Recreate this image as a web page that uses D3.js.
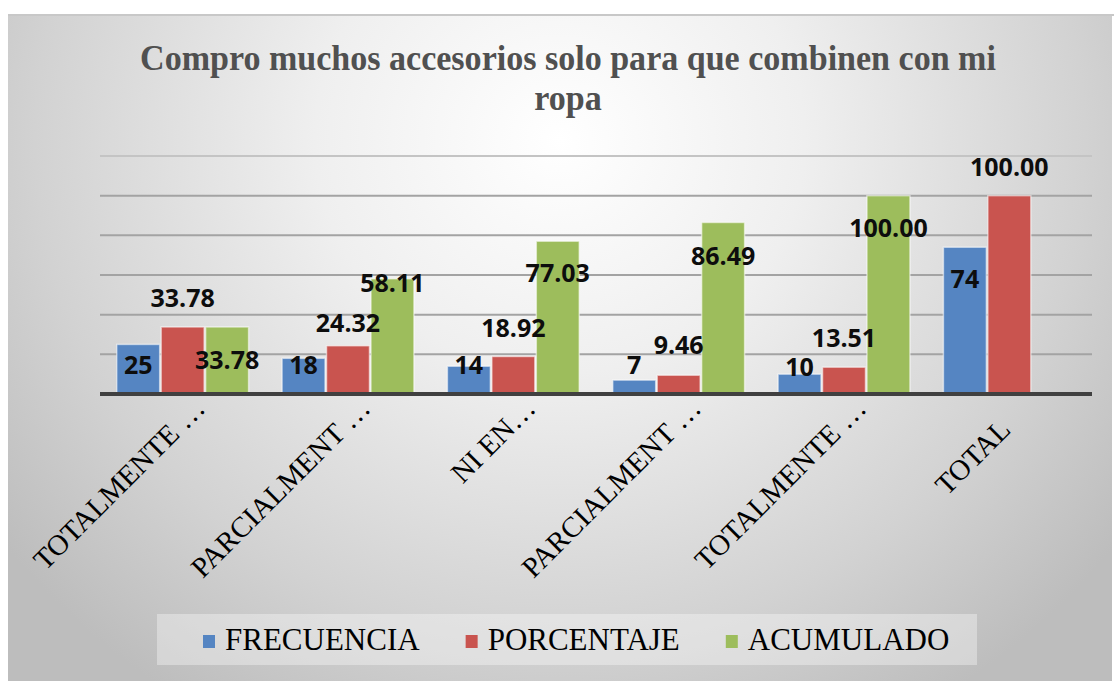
<!DOCTYPE html>
<html>
<head>
<meta charset="utf-8">
<script src="https://cdn.jsdelivr.net/npm/d3@7"></script>
<style>
  html, body { margin: 0; padding: 0; background: #ffffff; }
  svg { display: block; }
</style>
</head>
<body>
<svg id="chart" width="1114" height="681"></svg>
<script>
// ---------------- data ----------------
const titleLines = ["Compro muchos accesorios solo para que combinen con mi", "ropa"];
const categories = ["TOTALMENTE …", "PARCIALMENT …", "NI EN…", "PARCIALMENT …", "TOTALMENTE …", "TOTAL"];
const seriesNames = ["FRECUENCIA", "PORCENTAJE", "ACUMULADO"];
const frecuencia = [25, 18, 14, 7, 10, 74];
const porcentaje = [33.78, 24.32, 18.92, 9.46, 13.51, 100.00];
const acumulado  = [33.78, 58.11, 77.03, 86.49, 100.00, null];
const labelFormats = [d3.format("d"), d3.format(".2f"), d3.format(".2f")];
const yTicks = [0, 20, 40, 60, 80, 100, 120];

// ---------------- layout / style ----------------
const W = 1114, H = 681;
const colors = ["#5585c2", "#c9544f", "#9dbd5c"];
// vertical offset of each data label's centre from its bar top (px)
const labelDy = [
  [21, 7, -1, -15, -7, 32],
  [-29, -23, -28, -30, -29, -29],
  [33, 4, 32, 34, 32, 0]
];
// shift along the rotated baseline for each category label
const catShift = [0, 0, 0, 0, 0, -30];

const svg = d3.select("#chart");
const defs = svg.append("defs");

const bg = defs.append("radialGradient").attr("id", "bgGrad")
  .attr("gradientUnits", "userSpaceOnUse")
  .attr("cx", 560).attr("cy", 140).attr("r", 700)
  .attr("fx", 560).attr("fy", 140)
  .attr("gradientTransform", "translate(560,140) scale(1,0.95) translate(-560,-140)");
bg.append("stop").attr("offset", "0").attr("stop-color", "#ffffff");
bg.append("stop").attr("offset", "0.35").attr("stop-color", "#efefef");
bg.append("stop").attr("offset", "0.75").attr("stop-color", "#d2d2d2");
bg.append("stop").attr("offset", "1").attr("stop-color", "#bdbdbd");

const series = [frecuencia, porcentaje, acumulado];

// chart area
svg.append("rect").attr("x", 8).attr("y", 14).attr("width", W - 10).attr("height", H - 14)
  .attr("fill", "url(#bgGrad)");
svg.append("line").attr("x1", 8).attr("x2", W).attr("y1", 15).attr("y2", 15)
  .attr("stroke", "#c8c8c8").attr("stroke-width", 2);

// scales
const x0 = d3.scaleBand().domain(d3.range(categories.length)).range([100, 1092])
  .paddingInner(0.1935).paddingOuter(0.0967);
const x1 = d3.scaleBand().domain(d3.range(seriesNames.length)).range([0, x0.bandwidth()]);
const y = d3.scaleLinear().domain([0, 120]).range([394, 156]);

// gridlines
svg.append("g").selectAll("line").data(yTicks.filter(t => t > 0)).join("line")
  .attr("x1", 100).attr("x2", 1092)
  .attr("y1", d => y(d)).attr("y2", d => y(d))
  .attr("stroke", d => d === 120 ? "#c4c4c4" : "#a3a3a3").attr("stroke-width", 2);

// bars
const barG = svg.append("g");
categories.forEach((c, i) => {
  series.forEach((vals, s) => {
    if (vals[i] == null) return;
    barG.append("rect")
      .attr("x", x0(i) + x1(s) + 0.75)
      .attr("width", x1.bandwidth() - 1.5)
      .attr("y", y(vals[i]))
      .attr("height", y(0) - y(vals[i]))
      .attr("fill", colors[s])
      .attr("stroke", "rgba(255,255,255,0.55)")
      .attr("stroke-width", 1.5);
  });
});

// baseline
svg.append("line").attr("x1", 100).attr("x2", 1092).attr("y1", y(0)).attr("y2", y(0))
  .attr("stroke", "#404040").attr("stroke-width", 4);

// data labels
categories.forEach((c, i) => {
  series.forEach((vals, s) => {
    if (vals[i] == null) return;
    svg.append("text")
      .attr("x", x0(i) + x1(s) + x1.bandwidth() / 2)
      .attr("y", y(vals[i]) + labelDy[s][i])
      .attr("dy", "0.36em")
      .attr("text-anchor", "middle")
      .attr("font-family", "'Open Sans', sans-serif")
      .attr("font-weight", 700)
      .attr("font-size", 25)
      .attr("fill", "#0d0d0d")
      .text(labelFormats[s](vals[i]));
  });
});

// category labels
categories.forEach((c, i) => {
  const cx = x0(i) + x0.bandwidth() / 2 + 24;
  svg.append("text")
    .attr("transform", `translate(${cx},410) rotate(-45)`)
    .attr("dx", catShift[i])
    .attr("text-anchor", "end")
    .attr("font-family", "'Liberation Serif', 'Times New Roman', serif")
    .attr("font-size", 29)
    .attr("fill", "#000")
    .text(c);
});

// title (condensed serif bold)
const title = svg.append("text")
  .attr("text-anchor", "middle")
  .attr("font-family", "'Liberation Serif', 'Times New Roman', serif")
  .attr("font-weight", 700)
  .attr("font-size", 35)
  .attr("fill", "#505050");
title.selectAll("tspan").data(titleLines).join("tspan")
  .attr("x", 0).attr("y", (d, i) => 70 + i * 40).text(d => d);
const w1 = title.select("tspan").node().getComputedTextLength();
title.attr("transform", `translate(568,0) scale(${856 / w1},1)`);

// legend
const leg = svg.append("g");
leg.append("rect").attr("x", 157).attr("y", 614).attr("width", 820).attr("height", 51)
  .attr("fill", "rgba(255,255,255,0.35)");
let lx = 203;
seriesNames.forEach((n, s) => {
  leg.append("rect").attr("x", lx).attr("y", 635).attr("width", 12).attr("height", 13)
    .attr("fill", colors[s]);
  const t = leg.append("text").attr("x", lx + 22).attr("y", 650)
    .attr("font-family", "'Liberation Serif', 'Times New Roman', serif")
    .attr("font-size", 31).attr("fill", "#000").text(n);
  lx += 22 + t.node().getComputedTextLength() + 46;
});
</script>
</body>
</html>
